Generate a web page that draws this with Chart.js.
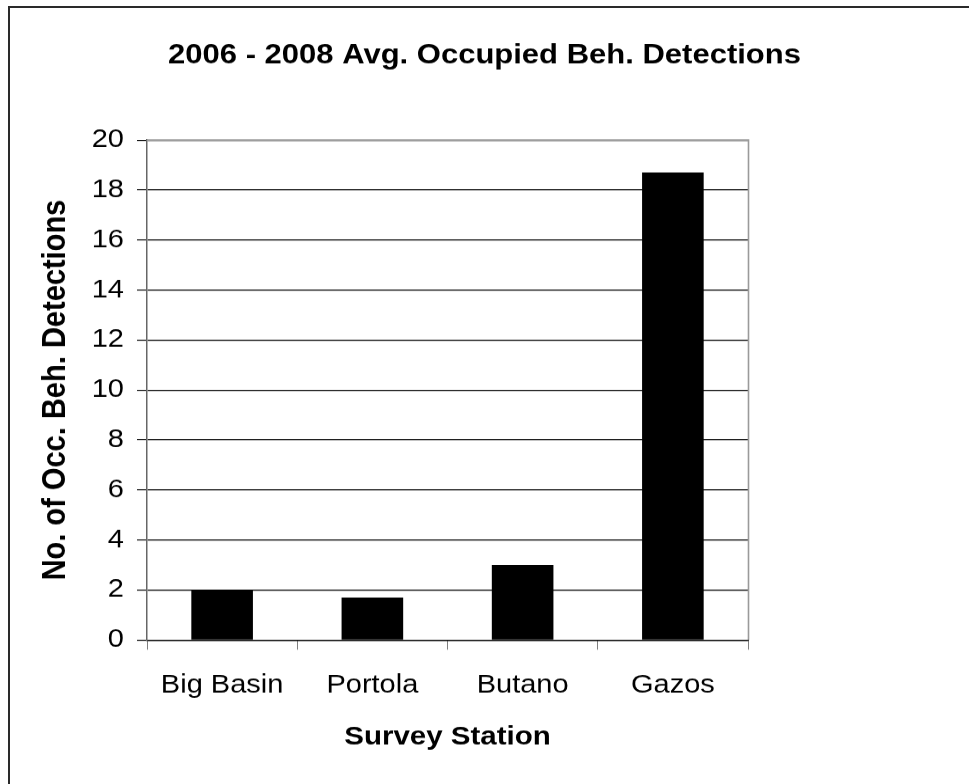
<!DOCTYPE html>
<html>
<head>
<meta charset="utf-8">
<script src="https://cdn.jsdelivr.net/npm/chart.js@4/dist/chart.umd.min.js"></script>
<style>
  html, body { margin: 0; padding: 0; background: #fff; overflow: hidden; width: 969px; height: 784px; }
  #frame { position: absolute; left: 8px; top: 6px; width: 2000px; height: 2000px; border: 2px solid #2a2a2a; box-sizing: border-box; }
  /* the original picture is slightly squashed vertically */
  #c { position: absolute; left: 0; top: 0; transform: scaleY(0.88); transform-origin: 0 0; }
</style>
</head>
<body>
<div id="frame"></div>
<canvas id="c" width="969" height="891"></canvas>
<script>
const chartTitle = "2006 - 2008 Avg. Occupied Beh. Detections";
const xAxisTitle = "Survey Station";
const yAxisTitle = "No. of Occ. Beh. Detections";
const stations = ["Big Basin", "Portola", "Butano", "Gazos"];
const detections = [2.0, 1.7, 3.0, 18.7];
const yMin = 0, yMax = 20, yStep = 2;

const FONT = "'Liberation Sans', Arial, sans-serif";

const plotBorder = {
  id: 'plotBorder',
  afterDraw(chart) {
    const {ctx, chartArea: a} = chart;
    ctx.save();
    ctx.strokeStyle = '#9a9a9a';
    ctx.lineWidth = 1.6;
    ctx.beginPath();
    ctx.moveTo(a.left, a.top);
    ctx.lineTo(Math.floor(a.right) + 0.5, a.top);
    ctx.lineTo(Math.floor(a.right) + 0.5, a.bottom);
    ctx.stroke();
    ctx.restore();
  }
};

new Chart(document.getElementById('c'), {
  type: 'bar',
  data: {
    labels: stations,
    datasets: [{
      data: detections,
      backgroundColor: '#000',
      borderWidth: 0,
      categoryPercentage: 1.0,
      barPercentage: 0.41
    }]
  },
  options: {
    responsive: false,
    animation: false,
    layout: { padding: { left: 0, right: 0, top: 0, bottom: 0 } },
    plugins: {
      legend: { display: false },
      tooltip: { enabled: false },
      title: {
        display: true,
        text: chartTitle,
        color: '#000',
        font: { family: FONT, size: 31, weight: 'bold', lineHeight: 1.2 },
        padding: { top: 45, bottom: 76.9 }
      }
    },
    scales: {
      x: {
        type: 'category',
        position: 'bottom',
        afterFit(s) { s.height = 163.7; },
        grid: { display: true, drawOnChartArea: false, drawTicks: true, tickLength: 11, color: '#808080', offset: true, lineWidth: 1 },
        border: { display: true, color: '#000', width: 1.15 },
        ticks: { color: '#000', font: { family: FONT, size: 29 }, padding: 23, maxRotation: 0, autoSkip: false },
        title: {
          display: true, text: xAxisTitle, color: '#000',
          font: { family: FONT, size: 29.5, weight: 'bold', lineHeight: 1.2 },
          padding: { top: 0, bottom: 35 }
        }
      },
      y: {
        type: 'linear',
        position: 'left',
        min: yMin, max: yMax,
        afterFit(s) { s.width = 147; },
        grid: { display: true, drawOnChartArea: true, drawTicks: true, tickLength: 10, color: '#000', lineWidth: 1.15 },
        border: { display: true, color: '#666', width: 1.5 },
        ticks: { stepSize: yStep, color: '#000', font: { family: FONT, size: 29 }, padding: 13 },
        title: {
          display: true, text: yAxisTitle, color: '#000',
          font: { family: FONT, size: 33, weight: 'bold', lineHeight: 1.2 },
          padding: { top: 36, bottom: 0 }
        }
      },
      yRight: {
        type: 'linear',
        position: 'right',
        display: true,
        afterFit(s) { s.width = 221; },
        grid: { display: false },
        border: { display: false },
        ticks: { display: false }
      }
    }
  },
  plugins: [plotBorder]
});
</script>
</body>
</html>
